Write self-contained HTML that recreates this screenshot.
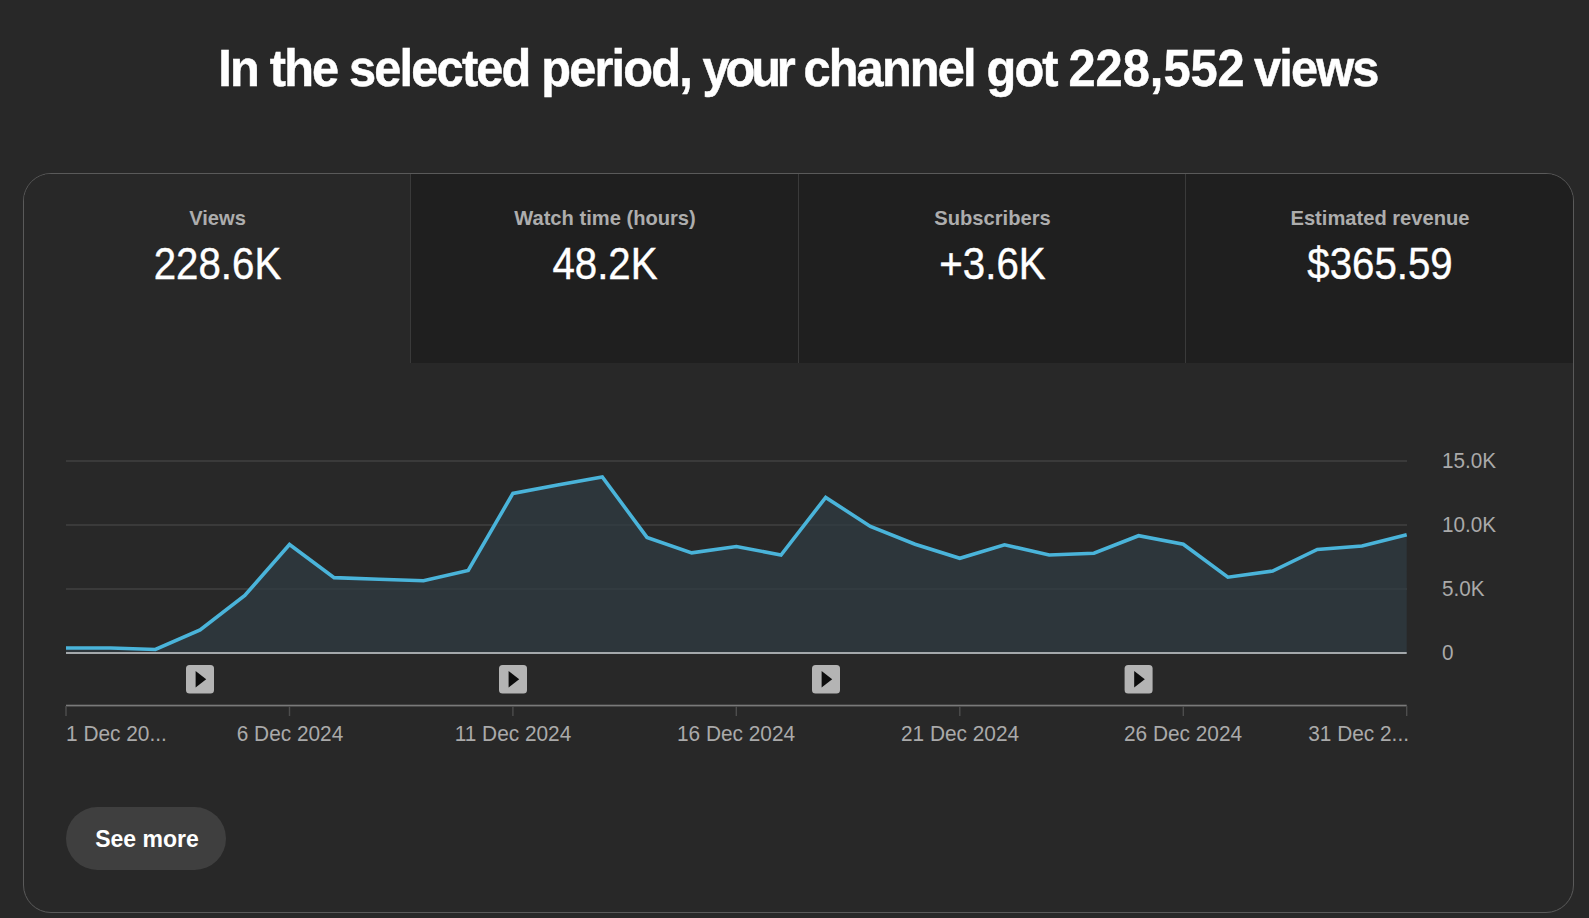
<!DOCTYPE html>
<html>
<head>
<meta charset="utf-8">
<style>
html,body{margin:0;padding:0;}
body{width:1589px;height:918px;background:#282828;position:relative;overflow:hidden;font-family:"Liberation Sans",sans-serif;color:#fff;}
.title{position:absolute;left:-1.3px;top:39px;width:1598px;text-align:center;font-weight:bold;font-size:53px;line-height:60px;letter-spacing:-2px;white-space:nowrap;color:#fff;-webkit-text-stroke:0.5px #fff;transform:scale(0.92,0.97);transform-origin:799px 10px;}
.card{position:absolute;left:23px;top:173px;width:1549px;height:738px;border:1px solid #5a5a5a;border-radius:28px;background:#282828;overflow:hidden;}
.tab{position:absolute;top:0;height:189px;background:#1f1f1f;text-align:center;}
.tab.sel{background:#282828;}
.tab .lab{position:absolute;left:0;right:0;top:32px;font-size:20.5px;line-height:24px;font-weight:bold;color:#adadad;white-space:nowrap;transform:scaleX(0.982);}
.tab .val{position:absolute;left:0;right:0;top:66px;font-size:43.5px;line-height:48px;color:#fff;white-space:nowrap;transform:scaleX(0.925);-webkit-text-stroke:0.4px #fff;}
.div{position:absolute;top:0;width:1px;height:189px;background:#3a3a3a;}
svg{position:absolute;left:0;top:0;}
.ylab{position:absolute;left:1442px;font-size:22px;line-height:24px;color:#aaa;white-space:nowrap;transform:scaleX(0.94);transform-origin:0 0;}
.xlab{position:absolute;top:720.5px;font-size:21.6px;line-height:26px;color:#aaa;white-space:nowrap;transform:scaleX(0.965);}
.btn{position:absolute;left:66px;top:807px;width:160px;height:63px;border-radius:32px;background:#3f3f3f;}
.btn span{position:absolute;left:2px;right:0;top:18.5px;text-align:center;font-size:23px;line-height:26px;font-weight:bold;color:#fff;}
</style>
</head>
<body>
<div class="title">In the selected period, <span style="letter-spacing:-4.5px">your</span> channel got <span style="letter-spacing:0px;margin-right:-2.7px">228,552</span> views</div>
<div class="card">
  <div class="tab sel" style="left:0;width:387px;"><div class="lab">Views</div><div class="val">228.6K</div></div>
  <div class="tab" style="left:387px;width:388px;"><div class="lab">Watch time (hours)</div><div class="val">48.2K</div></div>
  <div class="tab" style="left:775px;width:387px;"><div class="lab">Subscribers</div><div class="val">+3.6K</div></div>
  <div class="tab" style="left:1162px;width:388px;"><div class="lab">Estimated revenue</div><div class="val">$365.59</div></div>
  <div class="div" style="left:386px;"></div>
  <div class="div" style="left:774px;"></div>
  <div class="div" style="left:1161px;"></div>
</div>
<svg width="1589" height="918" viewBox="0 0 1589 918">
  <g stroke="#404040" stroke-width="1.5">
    <line x1="66" y1="461" x2="1407" y2="461"/>
    <line x1="66" y1="525" x2="1407" y2="525"/>
    <line x1="66" y1="589" x2="1407" y2="589"/>
  </g>
  <polygon fill="rgba(47,60,67,0.7)" points="66,653 66.0,648.0 110.7,648.0 155.4,649.5 200.1,630.0 244.8,595.5 289.5,544.5 334.1,577.6 378.8,579.2 423.5,580.8 468.2,570.4 512.9,493.4 557.6,485.0 602.3,477.0 647.0,537.4 691.7,552.9 736.4,546.5 781.0,555.0 825.7,497.4 870.4,526.5 915.1,544.2 959.8,558.3 1004.5,544.8 1049.2,555.0 1093.9,553.2 1138.6,535.7 1183.3,544.2 1227.9,577.2 1272.6,571.0 1317.3,549.5 1362.0,546.0 1406.7,534.7 1406.7,653"/>
  <rect x="66" y="652" width="1340.7" height="2" fill="#a4a8ab"/>
  <polyline fill="none" stroke="#4ab4da" stroke-width="3.6" stroke-linejoin="miter" points="66.0,648.0 110.7,648.0 155.4,649.5 200.1,630.0 244.8,595.5 289.5,544.5 334.1,577.6 378.8,579.2 423.5,580.8 468.2,570.4 512.9,493.4 557.6,485.0 602.3,477.0 647.0,537.4 691.7,552.9 736.4,546.5 781.0,555.0 825.7,497.4 870.4,526.5 915.1,544.2 959.8,558.3 1004.5,544.8 1049.2,555.0 1093.9,553.2 1138.6,535.7 1183.3,544.2 1227.9,577.2 1272.6,571.0 1317.3,549.5 1362.0,546.0 1406.7,534.7"/>
  <!-- play markers -->
  <g>
    <rect x="186" y="665" width="28" height="28.4" rx="3.5" fill="#b4b4b4"/><path d="M195.6 671 L206.2 679.2 L195.6 687.6 Z" fill="#0d0d0d"/>
    <rect x="499" y="665" width="28" height="28.4" rx="3.5" fill="#b4b4b4"/><path d="M508.6 671 L519.2 679.2 L508.6 687.6 Z" fill="#0d0d0d"/>
    <rect x="812" y="665" width="28" height="28.4" rx="3.5" fill="#b4b4b4"/><path d="M821.6 671 L832.2 679.2 L821.6 687.6 Z" fill="#0d0d0d"/>
    <rect x="1124.6" y="665" width="28" height="28.4" rx="3.5" fill="#b4b4b4"/><path d="M1134.1999999999998 671 L1144.8 679.2 L1134.1999999999998 687.6 Z" fill="#0d0d0d"/>
  </g>
  <!-- x axis -->
  <rect x="66" y="704.7" width="1340.7" height="1.7" fill="#7a7a7a"/>
  <g fill="#4d4d4d">
    <rect x="65.3" y="706" width="1.4" height="10"/>
    <rect x="288.8" y="706" width="1.4" height="10"/>
    <rect x="512.2" y="706" width="1.4" height="10"/>
    <rect x="735.6" y="706" width="1.4" height="10"/>
    <rect x="959.1" y="706" width="1.4" height="10"/>
    <rect x="1182.6" y="706" width="1.4" height="10"/>
    <rect x="1406.0" y="706" width="1.4" height="10"/>
  </g>
</svg>
<div class="ylab" style="top:449px;">15.0K</div>
<div class="ylab" style="top:513px;">10.0K</div>
<div class="ylab" style="top:577px;">5.0K</div>
<div class="ylab" style="top:641px;">0</div>
<div class="xlab" style="left:66px;transform-origin:0 0;">1 Dec 20...</div>
<div class="xlab" style="left:189.5px;width:200px;text-align:center;">6 Dec 2024</div>
<div class="xlab" style="left:412.9px;width:200px;text-align:center;">11 Dec 2024</div>
<div class="xlab" style="left:636.4px;width:200px;text-align:center;">16 Dec 2024</div>
<div class="xlab" style="left:859.8px;width:200px;text-align:center;">21 Dec 2024</div>
<div class="xlab" style="left:1083.3px;width:200px;text-align:center;">26 Dec 2024</div>
<div class="xlab" style="left:1208.7px;width:200px;text-align:right;transform-origin:100% 0;">31 Dec 2...</div>
<div class="btn"><span>See more</span></div>
</body>
</html>
